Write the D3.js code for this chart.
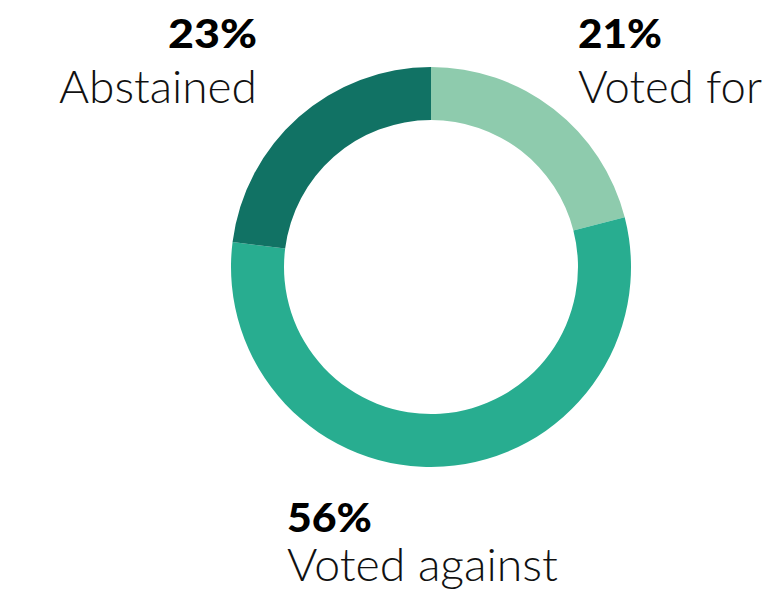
<!DOCTYPE html>
<html><head><meta charset="utf-8">
<script src="https://cdn.jsdelivr.net/npm/d3@7"></script>
<style>body{margin:0;background:#fff}</style>
</head><body>
<svg id="c" width="766" height="595"></svg>
<script>
const categories = ["Voted for", "Voted against", "Abstained"];
const values = [21, 56, 23];
const colors = ["#8ecbad", "#28ad90", "#117264"];

const svg = d3.select("#c");
const g = svg.append("g").attr("transform", "translate(431,267)");
const pie = d3.pie().sort(null).value(d => d.v);
const data = pie(categories.map((c, i) => ({c, v: values[i], col: colors[i]})));
const arc = d3.arc().innerRadius(147).outerRadius(200);
g.selectAll("path").data(data).join("path")
  .attr("d", arc).attr("fill", d => d.data.col);

// label positions (layout only)
const pos = {
  "Voted for": {x: 578, anchor: "start", y1: 48, y2: 103, w1: 84, w2: 184},
  "Voted against": {x: 287, anchor: "start", y1: 532, y2: 581, w1: 85, w2: 271},
  "Abstained": {x: 257, anchor: "end", y1: 48, y2: 103, w1: 89, w2: 198}
};
data.forEach(d => {
  const p = pos[d.data.c];
  svg.append("text").attr("x", p.x).attr("y", p.y1).attr("text-anchor", p.anchor)
    .attr("font-family", "Lato").attr("font-weight", 900).attr("font-size", 40)
    .attr("textLength", p.w1).attr("lengthAdjust", "spacingAndGlyphs")
    .attr("fill", "#000").text(d3.format(".0f")(d.data.v) + "%");
  svg.append("text").attr("x", p.x).attr("y", p.y2).attr("text-anchor", p.anchor)
    .attr("font-family", "Lato").attr("font-weight", 300).attr("font-size", 45)
    .attr("textLength", p.w2).attr("lengthAdjust", "spacingAndGlyphs")
    .attr("fill", "#111").text(d.data.c);
});
</script>
</body></html>
